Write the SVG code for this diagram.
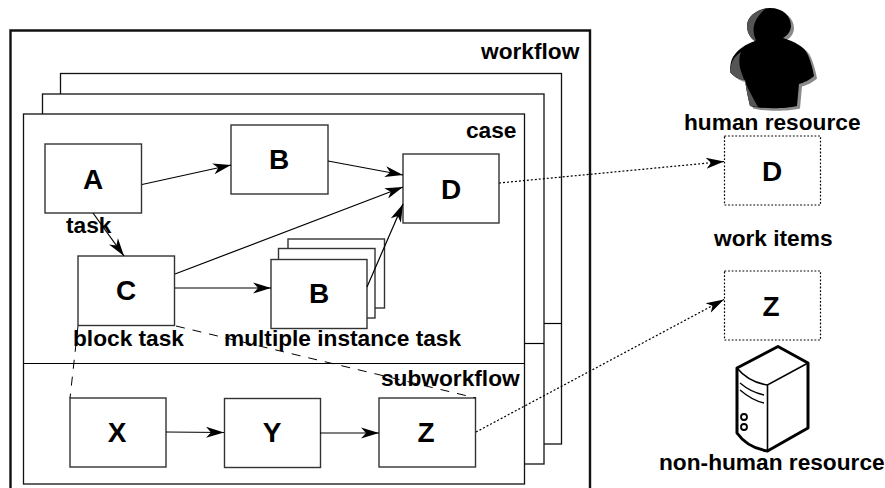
<svg xmlns="http://www.w3.org/2000/svg" width="885" height="488" viewBox="0 0 885 488">
<defs>
<marker id="arr" markerUnits="userSpaceOnUse" markerWidth="20" markerHeight="14" refX="18" refY="7" orient="auto"><path d="M0,1.500 L18,7 L0,12.500 L5,7 Z" fill="#000" stroke="none"/></marker>
</defs>
<style>
.c{fill:#fff;stroke:#111;stroke-width:1.3}
.n{fill:#fff;stroke:#333;stroke-width:1.4}
.d{fill:#fff;stroke:#000;stroke-width:1.2;stroke-dasharray:1.8 1.8}
.l{fill:none;stroke:#000;stroke-width:1.2}
.a{fill:none;stroke:#000;stroke-width:1.2;marker-end:url(#arr)}
.dash{fill:none;stroke:#000;stroke-width:1;stroke-dasharray:9 8}
.dot{fill:none;stroke:#000;stroke-width:1.200;stroke-dasharray:2 2;marker-end:url(#arr)}
text{font-family:"Liberation Sans",Arial,sans-serif;font-weight:bold;fill:#000}
.t{font-size:22.700px}
.b{font-size:28px;text-anchor:middle}
</style>
<rect width="885" height="488" fill="#fff"/>
<g id="workflow"><path d="M10.500,495 V30.500 H590 V495" fill="none" stroke="#111" stroke-width="2.400"/></g>
<g id="case-stack">
<rect class="c" x="60.500" y="73.500" width="501" height="370.500"/><path class="l" d="M544,323.500 H561.500"/>
<rect class="c" x="42.500" y="94" width="501.500" height="370"/><path class="l" d="M524,343.500 H544"/>
<rect class="c" x="23.500" y="114" width="501" height="370"/><path class="l" d="M23.500,363.500 H524.500"/>
</g>
<g id="label-frames"><text class="t" x="481" y="58.500">workflow</text><text class="t" x="466" y="137.500">case</text><text class="t" x="381" y="386">subworkflow</text></g>
<g id="node-a"><rect class="n" x="45" y="144" width="96.500" height="69"/><text class="b" x="93" y="189">A</text><text class="t" x="66" y="232.500">task</text></g>
<g id="node-b"><rect class="n" x="231" y="125" width="97" height="69"/><text class="b" x="279" y="169">B</text></g>
<g id="node-c"><rect class="n" x="78" y="256" width="96.500" height="69.500"/><text class="b" x="126" y="300">C</text><text class="t" x="73" y="345.500">block task</text></g>
<g id="node-d"><rect class="n" x="403" y="154" width="96" height="69"/><text class="b" x="451" y="199">D</text></g>
<g id="node-b-multi"><rect class="n" x="288" y="239" width="96.500" height="69"/><rect class="n" x="278.500" y="248.500" width="96.500" height="69.500"/><rect class="n" x="271" y="259.500" width="96" height="69"/><text class="b" x="319" y="303">B</text><text class="t" x="224" y="346">multiple instance task</text></g>
<g id="node-x"><rect class="n" x="70" y="398" width="96" height="69"/><text class="b" x="117" y="442">X</text></g>
<g id="node-y"><rect class="n" x="224.500" y="398.500" width="96" height="69"/><text class="b" x="272" y="442">Y</text></g>
<g id="node-z"><rect class="n" x="379" y="398" width="96.500" height="69"/><text class="b" x="426" y="442">Z</text></g>
<g id="item-d"><rect class="d" x="724.500" y="136" width="96" height="69"/><text class="b" x="772" y="181">D</text></g>
<text class="t" x="714" y="246">work items</text>
<g id="item-z"><rect class="d" x="724.500" y="271" width="96" height="69"/><text class="b" x="771" y="316">Z</text></g>
<g id="human-resource">
<path id="hr-shadow" d="M770,8 C783,8 791,16 791,26 C791,31 787,36 783,38 C795,42 804,46 808,55 C811,62 813,70 814,76 C810,80 803,83 799,84 L797,106 C785,109 762,109 750,106 C748,98 746,88 745,80 C738,79 733,76 730,72 C730,65 731,60 733,57 C738,49 746,44 755,41 C749,37 747,31 747,25 C748,15 759,8 770,8 Z" fill="#8a8a8a" transform="translate(3,2.500)"/>
<path id="hr-body" d="M770,8 C783,8 791,16 791,26 C791,31 787,36 783,38 C795,42 804,46 808,55 C811,62 813,70 814,76 C810,80 803,83 799,84 L797,106 C785,109 762,109 750,106 C748,98 746,88 745,80 C738,79 733,76 730,72 C730,65 731,60 733,57 C738,49 746,44 755,41 C749,37 747,31 747,25 C748,15 759,8 770,8 Z" fill="#000"/>
<path id="hr-light" d="M765,9 C755,11 748,17 747,25 C747,31 749,37 755,41 L756,40 C753,34 750,22 765,9 Z M741,52 C735,56 731,60 730,72 C733,76 738,79 745,80 C746,88 748,98 750,106 L758,107 C752,96 744,82 740,68 C739,62 739,57 741,52 Z" fill="#555"/>
<text class="t" x="684" y="130">human resource</text>
</g>
<g id="non-human-resource">
<path d="M737,368 L778,346.500 L808,363 L808,428 L767.500,451 C755,449 744,443 737,433 Z" fill="#fff" stroke="#000" stroke-width="3" stroke-linejoin="round"/>
<path d="M737,368 C745,378 755,383 767.500,385 L808,363 M767.500,385 L767.500,451" fill="none" stroke="#000" stroke-width="1.600"/>
<path d="M740,383 C747,389 755,393 764,395 M740,390 C747,396 755,401 764,403" fill="none" stroke="#000" stroke-width="1.300"/>
<circle cx="744" cy="417" r="3" fill="none" stroke="#000" stroke-width="1.800"/><circle cx="744" cy="427" r="3" fill="none" stroke="#000" stroke-width="1.800"/>
<text class="t" x="659" y="469.500">non-human resource</text>
</g>
<g id="connectors">
<path class="a" d="M142,184.500 L231,165"/>
<path class="a" d="M328,161 L403,175"/>
<path class="a" d="M93,213 L124,256"/>
<path class="a" d="M175,274 L403,187"/>
<path class="a" d="M175,288 L271,288"/>
<path class="a" d="M367,287 L403,204"/>
<path class="a" d="M166,432 L224,432.500"/>
<path class="a" d="M320,433 L379,433"/>
<path class="dash" d="M176,326 L476,398"/>
<path class="dash" d="M78,326 L70,398"/>
<path class="dot" d="M499,183 L724,161.500"/>
<path class="dot" d="M476,432 L724,299.500"/>
</g>
</svg>
